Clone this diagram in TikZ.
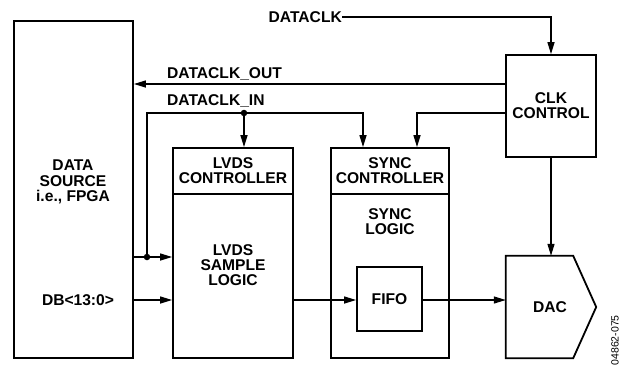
\documentclass[tikz,border=0pt]{standalone}
\usepackage{fontspec}
\setmainfont{Liberation Sans}
\usetikzlibrary{arrows.meta,calc}
\begin{document}
\begin{tikzpicture}[x=1pt,y=-1pt,
  lbl/.style={font=\bfseries\fontsize{15.6}{15.2}\selectfont, align=center, inner sep=0pt},
  box/.style={draw, inner sep=0pt, line width=1.8pt},
  conn/.style={line width=1.4pt},
  arr/.style={conn, -{Triangle[length=12pt,width=7pt]}},
  dot/.style={circle, fill, inner sep=0pt, minimum size=6.5pt}]
\useasboundingbox (0,0) rectangle (631,368);
% blocks
\node[box, minimum width=119pt, minimum height=337pt] (ds) at (73.5,189.5) {};
\node[lbl] (dst) at (73,182) {DATA\\SOURCE\\i.e., FPGA};
\node[lbl] (db) at (78,300) {DB<13:0>};
\node[box, lbl, minimum width=90pt, minimum height=102pt] (clk) at (551,106) {CLK\\CONTROL};
\node[box, minimum width=120pt, minimum height=210pt] (lvds) at (233,253) {};
\coordinate (ysep) at (0,194);
\draw[line width=1.8pt] (lvds.west |- ysep) -- (lvds.east |- ysep);
\node[lbl] (lvdsc) at (233,171) {LVDS\\CONTROLLER};
\node[lbl] (lvdss) at (233,265) {LVDS\\SAMPLE\\LOGIC};
\node[box, minimum width=118pt, minimum height=210pt] (sync) at (390,253) {};
\draw[line width=1.8pt] (sync.west |- ysep) -- (sync.east |- ysep);
\node[lbl] (syncc) at (390,171) {SYNC\\CONTROLLER};
\node[lbl] (syncl) at (390,222) {SYNC\\LOGIC};
\node[box, lbl, minimum width=65pt, minimum height=64pt] (fifo) at (389.5,299) {FIFO};
\node[inner sep=0pt, minimum width=90pt, minimum height=102pt] (dac) at (551,307) {};
\draw[line width=1.8pt] (dac.north west) -- ([xshift=-23pt]dac.north east) -- (dac.east)
  -- ([xshift=-23pt]dac.south east) -- (dac.south west) -- cycle;
\node[lbl] (dact) at (550,307) {DAC};
% labels
\node[lbl, anchor=east] (dclk) at (342,17) {DATACLK};
\node[lbl, anchor=base west] (doutl) at (167,78) {DATACLK\_OUT};
\node[lbl, anchor=base west] (dinl) at (167,105) {DATACLK\_IN};
\node[font=\fontsize{10.5}{10.5}\selectfont, rotate=90, anchor=east, inner sep=0pt] (code) at (615,315) {04862-075};
% connectors
\draw[arr] (dclk.east) -- (clk.north |- dclk.east) -- (clk.north);
\coordinate (yout) at (0,84);
\draw[arr] (clk.west |- yout) -- (ds.east |- yout);
\node[dot] (d1) at (147,257) {};
\node[dot] (d2) at (244,113) {};
\coordinate (cin) at (147,113);
\coordinate (cs) at (363,113);
\draw[arr] (ds.east |- d1) -- (lvds.west |- d1);
\draw[arr] (d1.center) -- (cin) -- (cs) -- (cs |- sync.north);
\draw[arr] (d2.center) -- (d2.center |- lvds.north);
\coordinate (cc) at (417,113);
\draw[arr] (clk.west |- cc) -- (cc) -- (cc |- sync.north);
\coordinate (ydb) at (0,300);
\draw[arr] (ds.east |- ydb) -- (lvds.west |- ydb);
\draw[arr] (lvds.east |- ydb) -- (fifo.west |- ydb);
\draw[arr] (fifo.east |- ydb) -- (dac.west |- ydb);
\draw[arr] (clk.south) -- (clk.south |- dac.north);
\end{tikzpicture}
\end{document}
